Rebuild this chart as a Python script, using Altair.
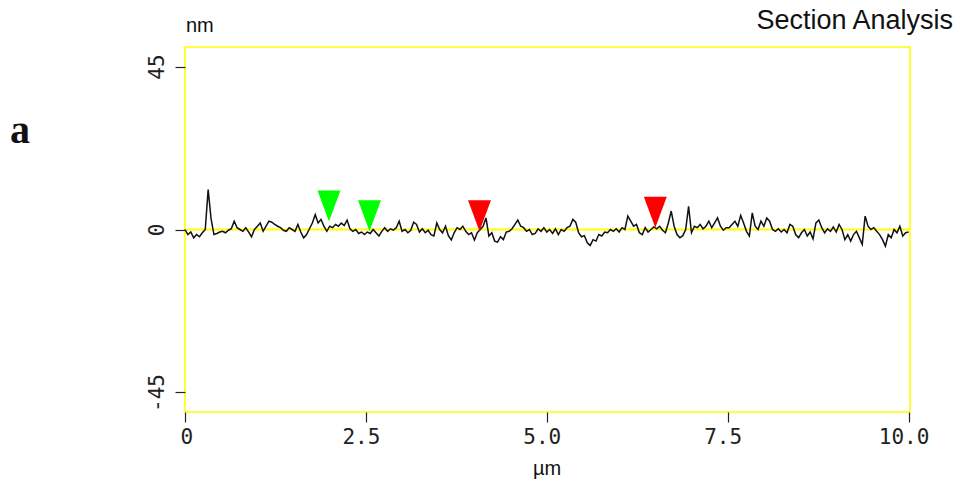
import altair as alt
import pandas as pd

# Profile heights (nm), sampled every 0.04 µm from 0 to 10 µm
heights_nm = [
    0, -1.4, -0.7, -2.3, -1.4, -2.0, -0.9, 0, 11.0, 3.0,
    -1.4, -1.1, -0.7, -0.5, -0.9, -0.2, 0.2, 2.3, 0.5, 0,
    -0.5, 0.5, -0.7, -2.0, 0, 0.9, 1.8, -0.5, 0.9, 2.3,
    2.0, 1.4, 0.9, 0.5, -0.2, -0.5, 0.5, 0, -0.5, 1.4,
    -0.7, -2.3, -1.4, 0.2, 1.8, 4.1, 1.8, 2.8, 0.9, -0.5,
    0.9, 0.5, 1.4, 0.9, 1.8, 1.1, 2.6, 0.2, -0.5, 0,
    -1.1, -0.7, -1.4, -0.7, -1.1, 0, -0.9, -1.8, -0.5, 0.5,
    -0.5, 0.2, -0.2, 0.5, 2.3, -0.5, 0, -0.9, -0.2, 2.0,
    1.4, -0.7, 0.2, -0.9, -0.2, -1.4, -1.8, 1.8, 0, -0.9,
    0.9, -1.7, -2.9, -0.9, 0.5, 0, 0.9, -0.5, -1.4, -0.9,
    -2.9, -0.9, 0, 0.9, 3.2, -1.8, -0.9, -3.2, -3.5, -2.0,
    -2.8, -0.7, -0.5, 0.2, 1.4, 2.6, 0.9, 0.5, -0.5, 0,
    -1.4, -1.1, 0.2, -0.5, 0.5, -0.7, 0, -1.1, 0.2, -1.4,
    0, -0.5, 0.5, 0.9, 2.8, 2.0, -0.9, -2.0, -1.7, -3.7,
    -4.4, -2.8, -3.2, -1.4, -1.8, -0.7, -0.9, 0, -0.5, 0.2,
    -0.7, 0.5, 0, 3.7, 2.3, 0.9, 1.4, -0.9, -1.4, 0.5,
    -0.7, 0, 0.7, 0.2, 0.9, -0.2, -0.9, 1.8, 5.1, 0.9,
    -1.4, -2.3, -1.7, 0, 6.4, -0.9, 0.9, 0.5, 1.4, 0.2,
    0.9, 2.3, 0.5, 1.8, 3.2, 0.9, -0.2, 0.5, 0.5, 1.4,
    2.3, 0.9, 3.9, 1.8, -0.5, -1.8, 4.6, 0.9, 0, 2.3,
    0.9, 3.2, 2.3, 0, -0.5, 0.2, -0.7, 0, -0.9, 1.4,
    0.9, -1.4, -2.3, -0.9, 0, -1.8, -0.7, -2.6, 1.8, 2.6,
    0.5, -0.9, 0.2, -0.5, 0.7, -0.7, 1.4, 0, -2.8, -1.4,
    -3.2, -1.4, -0.5, -2.3, -4.1, 3.7, 0.9, 0, 0.5, -0.5,
    -1.4, -2.8, -4.6, -1.4, -2.3, 0, -0.9, 0.9, -1.8, -0.9,
    -0.7,
]
step_um = 0.04
x_um = [round(i * step_um, 2) for i in range(len(heights_nm))]

# Cursor markers (position µm, height nm at tip, colour)
marker_x = [1.99, 2.55, 4.07, 6.50]
marker_y = [2.2, -0.5, -0.5, 0.5]
marker_color = ["#00ff00", "#00ff00", "#ff0000", "#ff0000"]

x_ticks = [0, 2.5, 5, 7.5, 10]
y_ticks = [-45, 0, 45]

profile = pd.DataFrame({"x": x_um, "y": heights_nm})
markers = pd.DataFrame({"x": marker_x, "y": marker_y, "c": marker_color})

xscale = alt.Scale(domain=[0, 10.02], nice=False, zero=False)
yscale = alt.Scale(domain=[-50.4, 50.4], nice=False, zero=False)

mono = "DejaVu Sans Mono"

xaxis = alt.Axis(
    values=x_ticks, title=None, grid=False, domain=False,
    tickSize=10, tickColor="#222", tickWidth=1.2,
    labelFont=mono, labelFontSize=21, labelColor="#222",
    labelPadding=4, labelOffset=-5,
    labelExpr="datum.value == 0 ? '0' : format(datum.value, '.1f')",
)
yaxis = alt.Axis(
    values=y_ticks, title=None, grid=False, domain=False,
    tickSize=10, tickColor="#222", tickWidth=1.2,
    labelFont=mono, labelFontSize=21, labelColor="#222",
    labelAngle=270, labelAlign="center", labelBaseline="bottom",
    labelPadding=8,
    labelExpr="'' + datum.value",
)

zero_rule = alt.Chart(pd.DataFrame({"y": [0]})).mark_rule(
    color="#ffff00", strokeWidth=2
).encode(y=alt.Y("y:Q", scale=yscale, axis=yaxis))

line = alt.Chart(profile).mark_line(color="#111", strokeWidth=1.5).encode(
    x=alt.X("x:Q", scale=xscale, axis=xaxis),
    y=alt.Y("y:Q", scale=yscale, axis=yaxis),
)

tri = alt.Chart(markers).mark_point(
    shape="M-0.74,-2L0,0L0.74,-2Z", size=961, filled=True, opacity=1, strokeWidth=0
).encode(
    x=alt.X("x:Q", scale=xscale),
    y=alt.Y("y:Q", scale=yscale),
    color=alt.Color("c:N", scale=None, legend=None),
)

def label(txt, x, y, size, font="Liberation Sans", align="left", weight="normal"):
    return alt.Chart(pd.DataFrame({"t": [txt]})).mark_text(
        font=font, fontSize=size, align=align, baseline="alphabetic",
        color="#111", fontWeight=weight,
    ).encode(text="t:N", x=alt.value(x), y=alt.value(y))

texts = [
    label("nm", 1, -15, 20),
    label("Section Analysis", 768, -18, 27, align="right"),
    label("µm", 348, 428, 20),
    label("a", -175, 96, 40, font="Liberation Serif", weight="bold"),
]

chart = alt.layer(zero_rule, line, tri, *texts).properties(
    width=725, height=365,
    padding={"left": 185, "top": 47, "right": 50, "bottom": 74},
    autosize=alt.AutoSizeParams(type="none"),
    background="#ffffff",
).configure_view(stroke="#ffff00", strokeWidth=1.6)

chart.save("out.html", embed_options={"renderer": "svg", "actions": False})
